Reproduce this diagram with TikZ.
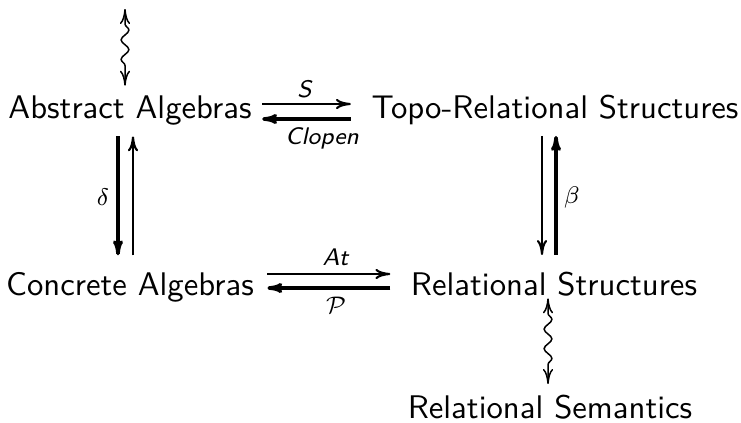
\documentclass[tikz,border=0pt]{standalone}
\usetikzlibrary{arrows.meta,decorations.pathmorphing,calc}
\begin{document}
\begin{tikzpicture}[x=0.33333pt,y=-0.33333pt, font=\sffamily,
  obj/.style={inner sep=2pt, anchor=base, font=\sffamily\fontsize{10.9}{13}\selectfont},
  lbl/.style={inner sep=0pt, font=\sffamily\fontsize{8}{9.5}\selectfont},
  thinarr/.style={line width=0.7pt, -{To[length=5pt,width=3.4pt]}},
  thickarr/.style={line width=1.2pt, -{To[length=5pt,width=3.4pt]}},
  squig/.style={line width=0.5pt, {To[length=5pt,width=3.4pt]}-{To[length=5pt,width=3.4pt]},
    decorate, decoration={snake, amplitude=1.3pt, segment length=6.5pt, pre length=5pt, post length=5pt}}]
\useasboundingbox (0,0) rectangle (741,422);
\node[obj] (AA)  at (130,118) {Abstract Algebras};
\node[obj] (TRS) at (555,118) {Topo-Relational Structures};
\node[obj] (CA)  at (130,295) {Concrete Algebras};
\node[obj] (RS)  at (554,295) {Relational Structures};
\node[obj] (RSem) at (550,418) {Relational Semantics};
\coordinate (top) at (125,9);
\coordinate (r1) at (0,104);
\coordinate (r2) at (0,119);
\coordinate (r3) at (0,274);
\coordinate (r4) at (0,288);
\coordinate (c1) at (118,0);
\coordinate (c2) at (133,0);
\coordinate (c3) at (542,0);
\coordinate (c4) at (556,0);
\coordinate (c5) at (125,0);
\coordinate (c6) at (548,0);
% horizontal top pair
\draw[thinarr] ($(AA.east |- r1)+(4,0)$) -- ($(TRS.west |- r1)+(-14,0)$);
\draw[thickarr] ($(TRS.west |- r2)+(-14,0)$) -- ($(AA.east |- r2)+(4,0)$);
\node[lbl, anchor=base] (lS) at (305,97) {\textit{S}};
\node[lbl, anchor=base] (lC) at (322,144) {\textit{Clopen}};
% horizontal bottom pair
\draw[thinarr] ($(CA.east |- r3)+(7,0)$) -- ($(RS.west |- r3)+(-14,0)$);
\draw[thickarr] ($(RS.west |- r4)+(-14,0)$) -- ($(CA.east |- r4)+(7,0)$);
\node[lbl, anchor=base] (lAt) at (336,265) {\textit{At}};
\node[lbl] (lP) at (336,305) {$\mathcal{P}$};
% verticals left
\draw[thickarr] ($(AA.south -| c1)+(0,5)$) -- ($(CA.north -| c1)+(0,-10)$);
\draw[thinarr] ($(CA.north -| c2)+(0,-10)$) -- ($(AA.south -| c2)+(0,5)$);
\node[lbl] (ld) at (103,197) {$\delta$};
% verticals right
\draw[thinarr] ($(TRS.south -| c3)+(0,5)$) -- ($(RS.north -| c3)+(0,-10)$);
\draw[thickarr] ($(RS.north -| c4)+(0,-10)$) -- ($(TRS.south -| c4)+(0,5)$);
\node[lbl] (lb) at (572,197) {$\beta$};
% squiggly
\draw[squig] (top) -- ($(AA.north -| c5)+(0,-3)$);
\draw[squig] ($(RS.south -| c6)+(0,-4)$) -- ($(RSem.north -| c6)+(0,-4)$);
\end{tikzpicture}
\end{document}
